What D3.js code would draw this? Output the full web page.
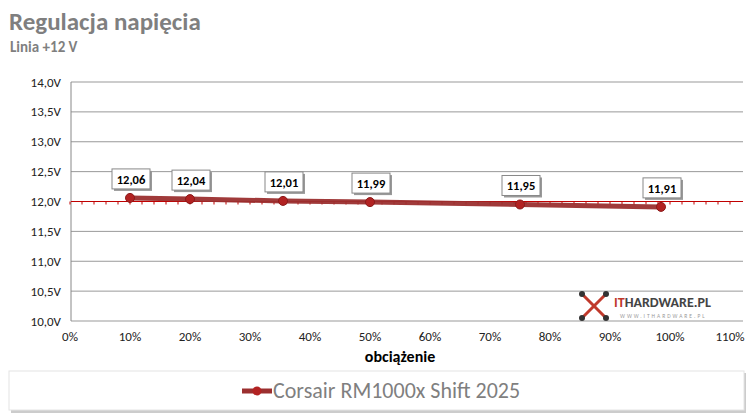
<!DOCTYPE html><html><head><meta charset="utf-8"><script src="https://cdn.jsdelivr.net/npm/d3@7"></script>
<style>body{margin:0;background:#fff}text{font-family:Calibri,Carlito,"Open Sans",sans-serif}</style></head><body><svg width="756" height="416"></svg><script>
const loads=[10,20,35.5,50,75,98.5];
const volts=[12.06,12.04,12.01,11.99,11.95,11.91];
const labels=["12,06","12,04","12,01","11,99","11,95","11,91"];
const yTicks=[10,10.5,11,11.5,12,12.5,13,13.5,14];
const xTicks=[0,10,20,30,40,50,60,70,80,90,100,110];
const seriesName="Corsair RM1000x Shift 2025";
const svg=d3.select("svg");
const x=d3.scaleLinear().domain([0,110]).range([70,730]);
const y=d3.scaleLinear().domain([10,14]).range([321,82]);
svg.append("text").attr("x",9).attr("y",30).attr("font-size",25).attr("font-weight","bold").attr("fill","#7f7f7f").text("Regulacja napięcia");
svg.append("text").attr("x",10).attr("y",52).attr("font-size",15).attr("font-weight","bold").attr("fill","#7f7f7f").text("Linia +12 V");
yTicks.forEach(t=>{svg.append("line").attr("x1",71).attr("x2",743).attr("y1",y(t)).attr("y2",y(t)).attr("stroke","#999").attr("stroke-width",1);
svg.append("text").attr("x",61).attr("y",y(t)+4.5).attr("text-anchor","end").attr("font-size",13).attr("fill","#222").text(t.toFixed(1).replace(".",",")+"V");});
svg.append("line").attr("x1",71).attr("x2",71).attr("y1",82).attr("y2",321).attr("stroke","#888");
xTicks.forEach(t=>svg.append("text").attr("x",x(t)).attr("y",341).attr("text-anchor","middle").attr("font-size",13).attr("fill","#222").text(t+"%"));
svg.append("line").attr("x1",71).attr("x2",743).attr("y1",y(12)).attr("y2",y(12)).attr("stroke","#c00000").attr("stroke-width",1);
d3.range(0,111,2).forEach(t=>svg.append("line").attr("x1",x(t)).attr("x2",x(t)).attr("y1",y(12)).attr("y2",y(12)+3).attr("stroke","#c00000"));
svg.append("text").attr("x",400).attr("y",362).attr("text-anchor","middle").attr("font-size",16).attr("font-weight","bold").attr("fill","#000").text("obciążenie");
const pts=loads.map((l,i)=>[x(l),y(volts[i])]);
svg.append("path").attr("d",d3.line()(pts)).attr("fill","none").attr("stroke","#9b2f2f").attr("stroke-width",5).attr("opacity",0.95);
pts.forEach((p,i)=>{
 svg.append("circle").attr("cx",p[0]).attr("cy",p[1]).attr("r",4.5).attr("fill","#b22222").attr("stroke","#8b1a1a");
 const g=svg.append("g").attr("transform",`translate(${p[0]},${p[1]-16})`);
 g.append("rect").attr("x",-16).attr("y",-11).attr("width",38).attr("height",20).attr("fill","#999");
 g.append("rect").attr("x",-18).attr("y",-13).attr("width",38).attr("height",20).attr("fill","#fff").attr("stroke","#888");
 g.append("text").attr("x",1).attr("y",2).attr("text-anchor","middle").attr("font-size",12.5).attr("font-weight","bold").attr("fill","#000").text(labels[i]);
});
const lg=svg.append("g").attr("transform","translate(582,294)");
[[0,0,24,24],[24,0,0,24]].forEach(d=>lg.append("line").attr("x1",d[0]).attr("y1",d[1]).attr("x2",d[2]).attr("y2",d[3]).attr("stroke","#c0392b").attr("stroke-width",3));
[[0,0],[24,0],[0,24],[24,24]].forEach(d=>lg.append("circle").attr("cx",d[0]).attr("cy",d[1]).attr("r",3).attr("fill","#333"));
lg.append("text").attr("x",32).attr("y",13).attr("font-size",14).attr("font-weight","bold").attr("fill","#c0392b").text("IT").append("tspan").attr("fill","#444").text("HARDWARE.PL");
lg.append("text").attr("x",38).attr("y",24).attr("font-size",5.5).attr("fill","#999").attr("letter-spacing",2).text("WWW.ITHARDWARE.PL");
svg.append("rect").attr("x",11).attr("y",373).attr("width",735).attr("height",40).attr("fill","#ccc");
svg.append("rect").attr("x",9).attr("y",371).attr("width",735).attr("height",39).attr("fill","#fff").attr("stroke","#e4e4e4");
svg.append("line").attr("x1",242).attr("x2",272).attr("y1",391).attr("y2",391).attr("stroke","#9b2f2f").attr("stroke-width",5);
svg.append("circle").attr("cx",257).attr("cy",391).attr("r",4.5).attr("fill","#b22222");
svg.append("text").attr("x",273).attr("y",398).attr("font-size",22).attr("fill","#7f7f7f").text(seriesName);
</script></body></html>
